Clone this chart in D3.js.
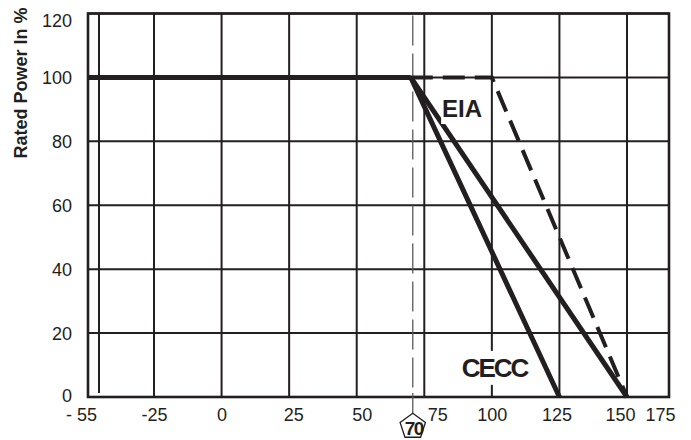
<!DOCTYPE html>
<html>
<head>
    <meta charset="utf-8">
    <title>Rated Power Derating</title>
    <script src="https://d3js.org/d3.v7.min.js"></script>
    <style>
        body { margin: 0; background: #fff; }
        text { font-family: "Liberation Sans", Arial, sans-serif; fill: #231f20; }
        .grid { stroke: #231f20; stroke-width: 2; }
        .frame { fill: none; stroke: #231f20; stroke-width: 2.6; }
        .curve { fill: none; stroke: #231f20; stroke-width: 5; }
        .curve.dash { stroke-width: 4; stroke-dasharray: 22, 10; }
        .marker-line { stroke: #5a5a5a; stroke-width: 1.3; }
        .tick text { font-size: 18px; }
    </style>
</head>
<body>
    <script>
        // axis ticks
        var xTicks = [-55, -25, 0, 25, 50, 75, 100, 125, 150, 175];
        var xGrid = [-50, -25, 0, 25, 50, 75, 100, 125, 150];
        var yTicks = [0, 20, 40, 60, 80, 100, 120];

        // curves: ambient temperature (°C) vs rated power (%)
        var flatTemp = [-55, 70];
        var flatPower = [100, 100];
        var ceccTemp = [70, 125];
        var ceccPower = [100, 0];
        var eiaTemp = [70, 150];
        var eiaPower = [100, 0];
        var eiaDashTemp = [70, 100, 150];
        var eiaDashPower = [100, 100, 0];
        var markerTemp = 70;

        var width = 691;
        var height = 440;
        var plotLeft = 88, plotRight = 669, plotTop = 13.5, plotBottom = 397;

        var svg = d3.select("body").append("svg")
            .attr("width", width)
            .attr("height", height);

        // the temperature axis is drawn schematic: the ends are squeezed
        var x = d3.scaleLinear()
            .domain([-55, -25, 150, 175])
            .range([plotLeft, 154, 627, plotRight]);

        var y = d3.scaleLinear()
            .domain([0, 120])
            .range([plotBottom, plotTop]);

        // grid
        svg.selectAll(".vgrid")
            .data(xGrid)
            .enter().append("line")
            .attr("class", "grid")
            .attr("x1", function(d) { return x(d); })
            .attr("x2", function(d) { return x(d); })
            .attr("y1", plotTop)
            .attr("y2", function(d) { return d === -50 ? plotBottom - 4 : plotBottom; });

        svg.selectAll(".hgrid")
            .data(yTicks)
            .enter().append("line")
            .attr("class", "grid")
            .attr("x1", plotLeft)
            .attr("x2", plotRight)
            .attr("y1", function(d) { return y(d); })
            .attr("y2", function(d) { return y(d); });

        svg.append("rect")
            .attr("class", "frame")
            .attr("x", plotLeft)
            .attr("y", plotTop)
            .attr("width", plotRight - plotLeft)
            .attr("height", plotBottom - plotTop);

        // 70 degree marker line
        var mx = x(markerTemp) + 2;
        svg.append("line")
            .attr("class", "marker-line")
            .attr("x1", mx)
            .attr("x2", mx)
            .attr("y1", plotTop + 2)
            .attr("y2", plotBottom - 8)
            .style("stroke-dasharray", "30,8");
        svg.append("line")
            .attr("class", "marker-line")
            .attr("x1", mx)
            .attr("x2", mx)
            .attr("y1", plotBottom - 4)
            .attr("y2", plotBottom + 17);

        var line = d3.line()
            .x(function(d) { return x(d[0]); })
            .y(function(d) { return y(d[1]); });

        function pts(t, p) {
            return t.map(function(v, i) { return [v, p[i]]; });
        }

        svg.append("path").attr("class", "curve").attr("d", line(pts(flatTemp, flatPower)));
        svg.append("path").attr("class", "curve").attr("d", line(pts(ceccTemp, ceccPower)));
        svg.append("path").attr("class", "curve").attr("d", line(pts(eiaTemp, eiaPower)));
        svg.append("path").attr("class", "curve dash").attr("d", line(pts(eiaDashTemp, eiaDashPower)));

        // curve labels with white boxes
        function label(txt, t, p, size, spacing, pad) {
            var g = svg.append("g");
            var box = g.append("rect").attr("fill", "#fff");
            var tx = g.append("text")
                .attr("x", x(t))
                .attr("y", y(p))
                .attr("text-anchor", "middle")
                .style("font-size", size + "px")
                .style("font-weight", "bold")
                .style("letter-spacing", spacing + "px")
                .text(txt);
            var b = tx.node().getBBox();
            box.attr("x", b.x - pad).attr("y", b.y - 2)
                .attr("width", b.width + 2 * pad).attr("height", b.height + 4);
        }
        label("EIA", 89, 87.6, 24, 0, 1);
        label("CECC", 101, 6.3, 26, -2, 4);

        // axes
        var labelShift = { "-55": -7, "25": 4, "50": 5, "75": 13, "125": -3, "150": -7, "175": -9 };

        var xAxis = svg.append("g")
            .attr("transform", "translate(0," + plotBottom + ")")
            .call(d3.axisBottom(x)
                .tickValues(xTicks)
                .tickSize(0)
                .tickPadding(11)
                .tickFormat(function(d) { return d === -55 ? "- 55" : d; }));
        xAxis.select(".domain").remove();
        xAxis.selectAll("text")
            .attr("font-family", null)
            .attr("font-size", null)
            .attr("dx", function(d) { return labelShift[d] || 0; });

        var yAxis = svg.append("g")
            .attr("transform", "translate(" + plotLeft + ",0)")
            .call(d3.axisLeft(y)
                .tickValues(yTicks)
                .tickSize(0)
                .tickPadding(16));
        yAxis.select(".domain").remove();
        yAxis.selectAll("text")
            .attr("font-family", null)
            .attr("font-size", null)
            .attr("dy", function(d) { return d === 120 ? "0.7em" : d === 0 ? "0.25em" : "0.35em"; });

        svg.append("text")
            .attr("transform", "translate(27,83) rotate(-90)")
            .attr("text-anchor", "middle")
            .style("font-size", "18px")
            .style("font-weight", "bold")
            .text("Rated Power In %");

        // pentagon marker at 70
        var cx = mx, cy = plotBottom + 29.5, r = 13.3;
        var penta = d3.range(5).map(function(i) {
            var a = -Math.PI / 2 + i * 2 * Math.PI / 5;
            return [cx + r * Math.cos(a), cy + r * Math.sin(a)];
        });
        svg.append("polygon")
            .attr("points", penta.map(function(p) { return p.join(","); }).join(" "))
            .attr("fill", "#fff")
            .attr("stroke", "#231f20")
            .attr("stroke-width", 1.3);
        svg.append("text")
            .attr("x", cx + 1)
            .attr("y", cy + 8)
            .attr("text-anchor", "middle")
            .style("font-size", "19px")
            .style("font-weight", "bold")
            .style("letter-spacing", "-1.5px")
            .text(markerTemp);
    </script>
</body>
</html>
